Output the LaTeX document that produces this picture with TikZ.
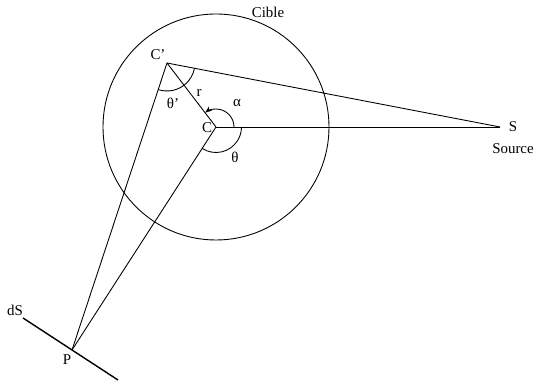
\documentclass[tikz,border=0pt]{standalone}
\usepackage{fontspec}
\setmainfont{Liberation Serif}
\usetikzlibrary{angles,arrows.meta}

\begin{document}
\begin{tikzpicture}[
    x=0.02cm, y=0.02cm,
    label/.style={inner sep=0pt, font=\fontsize{8.5}{10}\selectfont},
    ray/.style={line width=0.5pt},
    ang/.style={draw, line width=0.5pt}
]
\useasboundingbox (0,0) rectangle (537,381);

\coordinate (c) at (216,254);
\coordinate (cp) at (167,318);
\coordinate (s) at (500,254);
\coordinate (p) at (72,31);
\coordinate (dsa) at (23,63);
\coordinate (dsb) at (118,1);

% target sphere
\draw[ray] (c) circle (113);

\draw[ray] (c) -- (s);
\draw[ray] (cp) -- (s);
\draw[ray] (cp) -- (c);
\draw[ray] (cp) -- (p);
\draw[ray] (c) -- (p);
\draw[line width=0.8pt] (dsa) -- (dsb);

\pic[ang, -{Stealth[length=4pt,width=3pt]}, angle radius=0.36cm] {angle = s--c--cp};
\pic[ang, angle radius=0.51cm] {angle = p--c--s};
\pic[ang, angle radius=0.56cm] {angle = p--cp--s};

\node (lcible) [label] at (268,369) {Cible};
\node (lcp) [label] at (158,326) {C'};
\node (lc) [label] at (207,253) {C};
\node (lr) [label] at (199,288) {r};
\node (lalpha) [label] at (237,278) {α};
\node (ltheta) [label] at (235,224) {θ};
\node (lthetap) [label] at (173,278) {θ'};
\node (ls) [label] at (513,254) {S};
\node (lsource) [label] at (513,232) {Source};
\node (lds) [label] at (15,71) {dS};
\node (lp) [label] at (67,21) {P};

\end{tikzpicture}
\end{document}
